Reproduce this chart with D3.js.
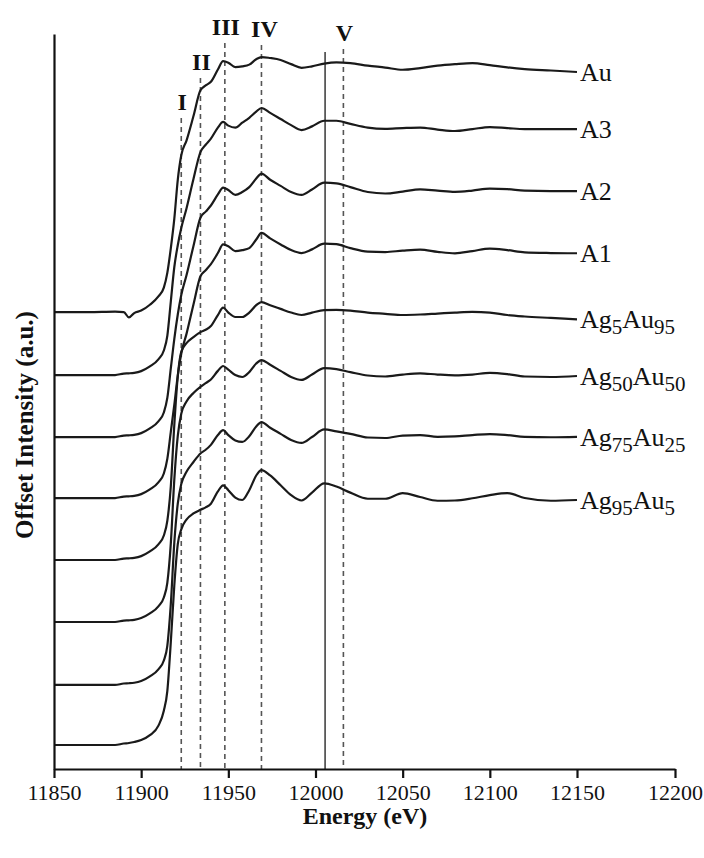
<!DOCTYPE html>
<html>
<head>
<meta charset="utf-8">
<script src="https://cdn.jsdelivr.net/npm/d3@7/dist/d3.min.js"></script>
<style>
body { margin: 0; background: #fff; }
text { font-family: "Liberation Serif", "Times New Roman", serif; fill: #111; }
</style>
</head>
<body>
<script>
// energy grid (eV) shared by every spectrum
var energy = [11850, 11870, 11885, 11890, 11893, 11896, 11900, 11905, 11910, 11913, 11915, 11917,
              11919, 11921, 11923, 11926, 11930, 11934, 11937, 11940, 11944, 11947, 11950, 11954,
              11958, 11962, 11966, 11969, 11974, 11980, 11986, 11992, 11998, 12005, 12012, 12020,
              12030, 12040, 12050, 12060, 12070, 12080, 12090, 12100, 12110, 12120, 12135, 12150];

var names = ["Au", "A3", "A2", "A1", "Ag5Au95", "Ag50Au50", "Ag75Au25", "Ag95Au5"];
// vertical offset of each spectrum (a.u.)
var offsets = [1.865, 1.608, 1.355, 1.106, 0.853, 0.600, 0.343, 0.098];

// normalised absorbance
var au = [0, 0, 0.002, 0.0, -0.022, -0.004, 0.006, 0.03, 0.065, 0.10, 0.16, 0.26, 0.38, 0.54, 0.64, 0.70,
          0.80, 0.905, 0.925, 0.94, 0.99, 1.024, 1.018, 1.0, 1.003, 1.01, 1.032, 1.041, 1.037, 1.029, 1.012, 0.997,
          1.003, 1.014, 1.019, 1.016, 1.006, 0.998, 0.989, 0.996, 1.006, 1.012, 1.016, 1.008, 0.999, 0.992, 0.986, 0.98];
var a3 = [0, 0, 0.0, 0.006, 0.007, 0.009, 0.016, 0.035, 0.065, 0.10, 0.16, 0.30, 0.44, 0.53, 0.60, 0.68,
          0.80, 0.91, 0.94, 0.965, 1.01, 1.033, 1.018, 1.01, 1.03, 1.05, 1.075, 1.09, 1.07, 1.045, 1.02, 1.0,
          1.015, 1.038, 1.038, 1.025, 1.01, 1.005, 1.008, 1.01, 1.002, 0.996, 1.004, 1.012, 1.008, 1.004, 1.004, 1.004];
var a2 = [0, 0, 0.0, 0.006, 0.007, 0.009, 0.016, 0.035, 0.065, 0.10, 0.16, 0.28, 0.40, 0.50, 0.58, 0.66,
          0.78, 0.895, 0.92, 0.945, 0.99, 1.018, 1.008, 0.988, 1.0, 1.02, 1.055, 1.075, 1.05, 1.025, 1.0, 0.988,
          1.01, 1.038, 1.035, 1.02, 1.0, 0.994, 1.002, 1.011, 1.006, 1.001, 1.006, 1.014, 1.012, 1.006, 1.004, 1.004];
var a1 = [0, 0, 0.0, 0.006, 0.007, 0.009, 0.016, 0.035, 0.065, 0.10, 0.16, 0.27, 0.38, 0.50, 0.59, 0.67,
          0.79, 0.905, 0.93, 0.955, 1.0, 1.035, 1.028, 1.008, 1.012, 1.02, 1.055, 1.082, 1.06, 1.035, 1.012, 1.0,
          1.015, 1.038, 1.036, 1.02, 1.006, 1.004, 1.01, 1.014, 1.005, 0.999, 1.008, 1.018, 1.012, 1.003, 1.0, 0.999];
var ag5au95 = [0, 0, 0.0, 0.006, 0.007, 0.009, 0.016, 0.035, 0.065, 0.10, 0.16, 0.30, 0.55, 0.75, 0.85, 0.885,
          0.91, 0.93, 0.94, 0.955, 1.0, 1.03, 1.01, 0.992, 0.992, 1.01, 1.04, 1.053, 1.04, 1.025, 1.01, 1.0,
          1.01, 1.02, 1.021, 1.018, 1.01, 1.005, 1.0, 1.002, 1.006, 1.01, 1.013, 1.01, 1.0, 0.994, 0.988, 0.982];
var ag50au50 = [0, 0, 0.0, 0.006, 0.007, 0.009, 0.016, 0.035, 0.065, 0.10, 0.16, 0.32, 0.58, 0.76, 0.85, 0.90,
          0.935, 0.96, 0.975, 0.99, 1.025, 1.045, 1.03, 1.008, 1.0, 1.02, 1.055, 1.069, 1.05, 1.025, 1.0, 0.988,
          1.01, 1.036, 1.032, 1.02, 1.006, 1.002, 1.01, 1.015, 1.01, 1.007, 1.01, 1.017, 1.012, 1.002, 1.0, 1.004];
var ag75au25 = [0, 0, 0.0, 0.006, 0.007, 0.009, 0.016, 0.035, 0.065, 0.10, 0.16, 0.33, 0.58, 0.74, 0.82, 0.87,
          0.91, 0.945, 0.96, 0.98, 1.02, 1.04, 1.02, 0.998, 0.992, 1.015, 1.055, 1.073, 1.05, 1.025, 1.0, 0.988,
          1.012, 1.043, 1.035, 1.025, 1.01, 1.008, 1.018, 1.02, 1.013, 1.015, 1.02, 1.024, 1.02, 1.013, 1.011, 1.013];
var ag95au5 = [0, 0, 0.0, 0.006, 0.008, 0.012, 0.02, 0.04, 0.08, 0.14, 0.22, 0.42, 0.65, 0.82, 0.88, 0.92,
          0.945, 0.96, 0.97, 0.985, 1.035, 1.06, 1.04, 1.01, 1.0, 1.04, 1.1, 1.122, 1.1, 1.06, 1.02, 0.998,
          1.03, 1.068, 1.055, 1.03, 1.005, 1.005, 1.028, 1.012, 0.997, 0.998, 1.007, 1.02, 1.028, 1.008, 0.997, 1.0];

var spectra = [au, a3, a2, a1, ag5au95, ag50au50, ag75au25, ag95au5];

var tickValues = [11850, 11900, 11950, 12000, 12050, 12100, 12150, 12200];

// feature markers I-V (dashed) and the solid reference line
var markerNames = ["I", "II", "III", "IV", "V"];
var markerEnergy = [11923, 11934, 11948, 11969, 12016];
var markerLevel = [2.690, 2.853, 2.996, 2.988, 2.971];   // label height, a.u.
var solidEnergy = 12005.5;
var solidLevel = 2.927;

function init() {
    var w = 704;
    var h = 858;

    var svg = d3.select("body")
                .append("svg")
                .attr("width", w)
                .attr("height", h);

    // the printed axis has a slightly wider last interval
    var xScale = d3.scaleLinear()
                   .domain([11850, 12150, 12200])
                   .range([54, 577, 675]);
    var yScale = d3.scaleLinear()
                   .domain([0, 3])
                   .range([769, 34]);

    // vertical marker lines
    svg.selectAll(".marker")
       .data(markerEnergy)
       .enter()
       .append("line")
       .attr("class", "marker")
       .attr("x1", function(d) { return xScale(d); })
       .attr("x2", function(d) { return xScale(d); })
       .attr("y1", function(d, i) { return yScale(markerLevel[i]) + 8; })
       .attr("y2", yScale(0))
       .style("stroke", "#555")
       .style("stroke-width", 1.6)
       .style("stroke-dasharray", "5,4");

    svg.append("line")
       .attr("x1", xScale(solidEnergy))
       .attr("x2", xScale(solidEnergy))
       .attr("y1", yScale(solidLevel))
       .attr("y2", yScale(0))
       .style("stroke", "#444")
       .style("stroke-width", 1.6);

    svg.selectAll(".marker-label")
       .data(markerNames)
       .enter()
       .append("text")
       .attr("class", "marker-label")
       .attr("x", function(d, i) { return xScale(markerEnergy[i]) + (d == "IV" ? 3 : 1); })
       .attr("y", function(d, i) { return yScale(markerLevel[i]); })
       .attr("text-anchor", "middle")
       .style("font-size", "24px")
       .style("font-weight", "bold")
       .text(function(d) { return d; });

    // spectra
    var line = d3.line()
                 .x(function(d) { return xScale(d[0]); })
                 .y(function(d) { return yScale(d[1]); })
                 .curve(d3.curveMonotoneX);

    svg.selectAll(".spectrum")
       .data(spectra)
       .enter()
       .append("path")
       .attr("class", "spectrum")
       .attr("d", function(d, i) {
           return line(d.map(function(v, j) { return [energy[j], v + offsets[i]]; }));
       })
       .style("fill", "none")
       .style("stroke", "#1a1a1a")
       .style("stroke-width", 2.2)
       .style("stroke-linejoin", "round");

    // sample labels at the right end of each curve
    var labels = svg.selectAll(".name")
       .data(names)
       .enter()
       .append("text")
       .attr("class", "name")
       .attr("x", xScale(12150) + 3)
       .attr("y", function(d, i) {
           var s = spectra[i];
           return yScale(s[s.length - 1] + offsets[i]) + 9;
       })
       .style("font-size", "26px");

    labels.each(function(d) {
        var el = d3.select(this);
        var parts = d.match(/[A-Za-z]+|\d+/g);
        var alloy = d.indexOf("Ag") === 0;
        if (!alloy) { el.text(d); return; }
        var down = false;
        parts.forEach(function(p) {
            var isSub = /\d/.test(p);
            var t = el.append("tspan").text(p);
            if (isSub) {
                t.style("font-size", "21px").attr("dy", 6);
                down = true;
            } else if (down) {
                t.attr("dy", -6);
                down = false;
            }
        });
    });

    // axes
    var xAxis = d3.axisBottom(xScale)
                  .tickValues(tickValues)
                  .tickSize(9)
                  .tickSizeOuter(0)
                  .tickPadding(6)
                  .tickFormat(d3.format("d"));
    var gx = svg.append("g")
                .attr("transform", "translate(0," + yScale(0) + ")")
                .call(xAxis);
    gx.select(".domain").style("stroke", "#111").style("stroke-width", 2.2);
    gx.selectAll(".tick line").style("stroke", "#111").style("stroke-width", 2.2);
    gx.selectAll(".tick text")
      .style("font-family", "'Liberation Serif', serif")
      .style("font-size", "22px")
      .style("fill", "#111");

    var yAxis = d3.axisLeft(yScale).tickValues([]).tickSizeOuter(0);
    var gy = svg.append("g")
                .attr("transform", "translate(" + xScale(11850) + ",0)")
                .call(yAxis);
    gy.select(".domain").style("stroke", "#111").style("stroke-width", 2.2);

    svg.append("text")
       .attr("x", 365)
       .attr("y", 824)
       .attr("text-anchor", "middle")
       .style("font-size", "24px")
       .style("font-weight", "bold")
       .text("Energy (eV)");

    svg.append("text")
       .attr("transform", "translate(33,425) rotate(-90)")
       .attr("text-anchor", "middle")
       .style("font-size", "25px")
       .style("font-weight", "bold")
       .text("Offset Intensity (a.u.)");
}
window.onload = init;
</script>
</body>
</html>
